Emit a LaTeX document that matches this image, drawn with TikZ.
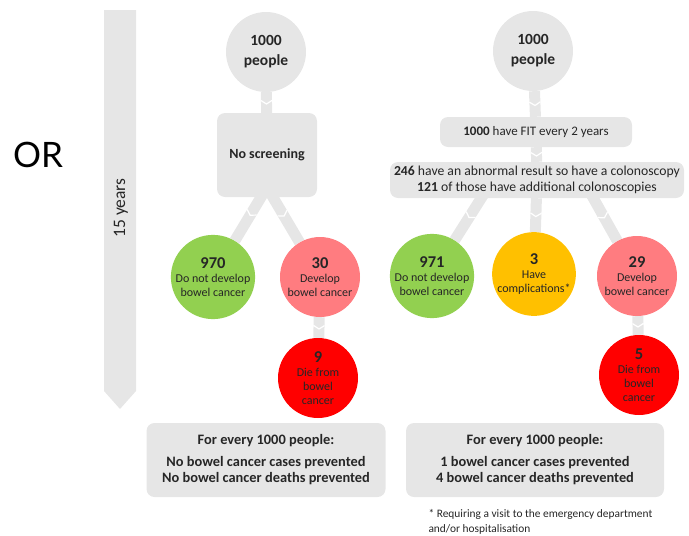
\documentclass[tikz,border=0pt]{standalone}
\usepackage{fontspec}
\setmainfont{Carlito}
\newfontfamily\orfont{Lato}
\usetikzlibrary{backgrounds,decorations.markings}

\definecolor{barGray}{HTML}{E6E6E6}
\definecolor{txtDark}{HTML}{262626}
\definecolor{okGreen}{HTML}{92D050}
\definecolor{caPink}{HTML}{FF7C80}
\definecolor{deathRed}{HTML}{FF0000}
\definecolor{compAmber}{HTML}{FFC000}

\tikzset{
  greybox/.style={fill=barGray, rounded corners=8pt, align=center, text=txtDark,
    inner sep=0pt},
  people/.style={circle, fill=barGray, minimum size=80pt, inner sep=0pt, align=center,
    text=txtDark, font=\bfseries\fontsize{15.5}{20}\selectfont},
  outcome/.style={circle, minimum size=80pt, inner sep=0pt, align=center,
    text=txtDark, font=\fontsize{12}{14}\selectfont},
  link/.style={draw=barGray, line width=11pt, postaction={decorate},
    decoration={markings, mark=at position 0.5 with
      {\draw[white, line width=1.2pt] (-2pt,-5.5pt) -- (1.5pt,0pt) -- (-2pt,5.5pt);}}},
}
\newcommand{\bignum}[1]{{\bfseries\fontsize{16.5}{19}\selectfont #1}}

\begin{document}
\begin{tikzpicture}[x=1pt, y=-1pt]
    \useasboundingbox (0,0) rectangle (689,536);

    % time arrow and OR
    \fill[barGray] (104,10) -- (136,10) -- (136,391) -- (120,409) -- (104,391) -- cycle;
    \node[rotate=90, text=txtDark, font=\fontsize{17.5}{20}\selectfont] (years) at (121,208) {15 years};
    \node[font=\orfont\fontsize{35}{35}\selectfont] (or) at (38,155) {OR};

    % no screening
    \node[people] (p1) at (266,52) {1000\\people};
    \node[greybox, minimum width=100pt, minimum height=84pt,
        font=\bfseries\fontsize{14}{17}\selectfont] (nos) at (267,155) {No screening};
    \node[outcome, fill=okGreen] (c970) at (213,277)
        {\bignum{970}\\Do not develop\\bowel cancer};
    \node[outcome, fill=caPink] (c30) at (320,277)
        {\bignum{30}\\Develop\\bowel cancer};
    \node[outcome, fill=deathRed] (d9) at (318,378)
        {\bignum{9}\\Die from\\bowel\\cancer};

    % screening with FIT
    \node[people] (p2) at (533,51) {1000\\people};
    \node[greybox, minimum width=192pt, minimum height=30pt,
        font=\fontsize{13}{15}\selectfont] (fit) at (536,132)
        {\textbf{1000} have FIT every 2 years};
    \node[greybox, minimum width=294pt, minimum height=36pt,
        font=\fontsize{13.7}{16}\selectfont] (colo) at (537,180)
        {\textbf{246} have an abnormal result so have a colonoscopy\\
         \textbf{121} of those have additional colonoscopies};
    \node[outcome, fill=okGreen] (c971) at (432,276)
        {\bignum{971}\\Do not develop\\bowel cancer};
    \node[outcome, fill=compAmber] (c3) at (534,274)
        {\bignum{3}\\Have\\complications*};
    \node[outcome, fill=caPink] (c29) at (637,276)
        {\bignum{29}\\Develop\\bowel cancer};
    \node[outcome, fill=deathRed] (d5) at (639,375)
        {\bignum{5}\\Die from\\bowel\\cancer};

    % summaries
    \node[greybox, minimum width=239pt, minimum height=74pt,
        font=\bfseries\fontsize{14.4}{16.5}\selectfont] (sum1) at (266,460)
        {For every 1000 people:\\[5pt] No bowel cancer cases prevented\\No bowel cancer deaths prevented};
    \node[greybox, minimum width=258pt, minimum height=74pt,
        font=\bfseries\fontsize{14.4}{16.5}\selectfont] (sum2) at (535,460)
        {For every 1000 people:\\[5pt] 1 bowel cancer cases prevented\\4 bowel cancer deaths prevented};
    \node[anchor=north west, align=left, text=txtDark,
        font=\fontsize{11.4}{15}\selectfont] (note) at (425,506)
        {* Requiring a visit to the emergency department\\and/or hospitalisation};

    \begin{scope}[on background layer]
        \draw[link] (p1) -- (nos);
        \draw[link] ([yshift=10pt]nos.south) -- (c970);
        \draw[link] ([yshift=10pt]nos.south) -- (c30);
        \draw[link] (c30) -- (d9);
        \draw[link] (p2) -- (fit);
        \draw[link] (fit) -- (colo);
        \draw[link] ([xshift=-52pt,yshift=6pt]colo.south) -- (c971);
        \draw[link] (colo) -- (c3);
        \draw[link] ([xshift=53pt,yshift=6pt]colo.south) -- (c29);
        \draw[link] (c29) -- (d5);
    \end{scope}
\end{tikzpicture}
\end{document}
